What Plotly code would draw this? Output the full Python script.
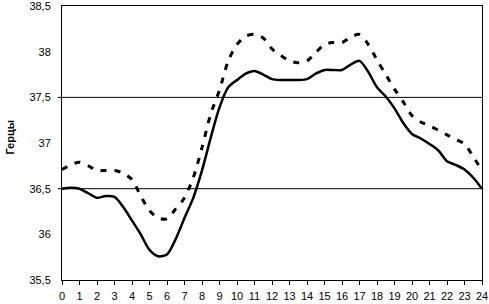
import plotly.graph_objects as go

hours = [i * 0.5 for i in range(49)]
solid = [36.50, 36.51, 36.50, 36.45, 36.40, 36.42, 36.41, 36.30, 36.15, 36.00,
         35.83, 35.76, 35.78, 35.95, 36.18, 36.40, 36.70, 37.06, 37.39, 37.61,
         37.69, 37.76, 37.79, 37.75, 37.70, 37.69, 37.69, 37.69, 37.70, 37.76,
         37.80, 37.80, 37.80, 37.86, 37.90, 37.78, 37.61, 37.51, 37.38, 37.22,
         37.10, 37.05, 36.99, 36.92, 36.80, 36.76, 36.71, 36.62, 36.50]
dashed = [36.71, 36.76, 36.79, 36.75, 36.70, 36.70, 36.70, 36.67, 36.60, 36.42,
          36.26, 36.18, 36.17, 36.28, 36.40, 36.62, 36.95, 37.32, 37.58, 37.90,
          38.08, 38.17, 38.19, 38.15, 38.03, 37.96, 37.90, 37.88, 37.90, 37.99,
          38.08, 38.10, 38.10, 38.16, 38.19, 38.08, 37.91, 37.75, 37.59, 37.45,
          37.30, 37.23, 37.19, 37.14, 37.09, 37.04, 36.99, 36.85, 36.70]
y_ticks = [35.5, 36, 36.5, 37, 37.5, 38, 38.5]
y_labels = ["35,5", "36", "36,5", "37", "37,5", "38", "38,5"]
x_ticks = list(range(25))
grid_levels = [36.5, 37.5]
y_title = "Герцы"

fig = go.Figure()
fig.add_trace(go.Scatter(x=hours, y=dashed, mode="lines",
                         line=dict(color="black", width=3, dash="6px,8px", shape="spline", smoothing=0.8),
                         showlegend=False))
fig.add_trace(go.Scatter(x=hours, y=solid, mode="lines",
                         line=dict(color="black", width=2.5, shape="spline", smoothing=0.8),
                         showlegend=False))

for g in grid_levels:
    fig.add_shape(type="line", xref="paper", yref="y", x0=-0.01, x1=1, y0=g, y1=g,
                  line=dict(color="black", width=1))

fig.add_annotation(text="<b>" + y_title + "</b>", xref="paper", yref="paper",
                   x=-0.126, y=0.52, xanchor="center", yanchor="middle",
                   textangle=-90, showarrow=False, font=dict(size=11))

fig.update_layout(
    width=489, height=304,
    margin=dict(l=62, r=7, t=6, b=24, autoexpand=False),
    paper_bgcolor="white", plot_bgcolor="white",
    font=dict(family="Liberation Sans, Arial, sans-serif", size=11, color="black"),
    xaxis=dict(range=[0, 24], tickvals=x_ticks, ticktext=[str(t) for t in x_ticks],
               ticks="outside", ticklen=4, tickcolor="black", showgrid=False,
               showline=True, linecolor="black", linewidth=1, mirror=True,
               zeroline=False, tickfont=dict(size=11), ticklabelstandoff=2),
    yaxis=dict(range=[35.5, 38.501], tickvals=y_ticks, ticktext=y_labels,
               ticks="", showgrid=False, showline=True, linecolor="black", linewidth=1,
               mirror=True, zeroline=False, tickfont=dict(size=11), ticklabelstandoff=8,
               ticklabeloverflow="allow"),
)

fig.write_html("out.html", config={"displayModeBar": False},
               post_script="document.body.style.margin='0';")
